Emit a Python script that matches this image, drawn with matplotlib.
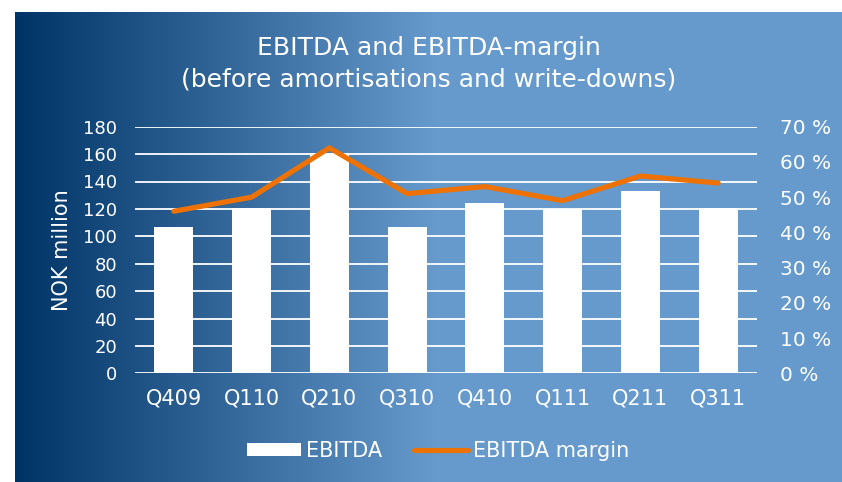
import numpy as np
import matplotlib
matplotlib.use("Agg")
import matplotlib.pyplot as plt
from matplotlib.patches import Patch
from matplotlib.lines import Line2D

categories = ["Q409", "Q110", "Q210", "Q310", "Q410", "Q111", "Q211", "Q311"]
ebitda = [107, 121, 161, 107, 124, 120, 133, 121]
margin = [46, 50, 64, 51, 53, 49, 56, 54]
left_ticks = [0, 20, 40, 60, 80, 100, 120, 140, 160, 180]
right_ticks = [0, 10, 20, 30, 40, 50, 60, 70]

W, H = 842, 482
fig = plt.figure(figsize=(W / 100, H / 100), dpi=100)
fig.patch.set_facecolor("white")

# background gradient panel
bg = fig.add_axes([15 / W, 0, (W - 15) / W, (H - 12) / H], zorder=0)
bg.set_axis_off()
ncol = 827
xs = np.arange(ncol)
t = np.clip(xs / 420.0, 0, 1)
c0 = np.array([0x00, 0x33, 0x66]) / 255
c1 = np.array([0x66, 0x99, 0xCC]) / 255
img = (c0[None, :] * (1 - t[:, None]) + c1[None, :] * t[:, None])[None, :, :]
bg.imshow(img, aspect="auto", extent=[0, 1, 0, 1])
bg.set_xlim(0, 1)
bg.set_ylim(0, 1)

left, right = 135 / W, 757 / W
bottom, top = 1 - 373.3 / H, 1 - 126.7 / H
ax = fig.add_axes([left, bottom, right - left, top - bottom], zorder=1)
ax.patch.set_alpha(0)
x = np.arange(len(categories))
ax.set_xlim(-0.5, len(categories) - 0.5)
ax.set_ylim(0, 180)
ax.set_yticks(left_ticks)
for v in left_ticks:
    ax.axhline(v, color="white", lw=1.3, zorder=1)
ax.bar(x, ebitda, width=0.5, color="white", zorder=2)
ax.set_xticks(x)
ax.set_xticklabels(categories)
for s in ax.spines.values():
    s.set_visible(False)
ax.tick_params(axis="both", length=0, colors="white")
ax.tick_params(axis="y", pad=13, labelsize=13)
ax.tick_params(axis="x", pad=11, labelsize=15)
ax.set_ylabel("NOK million", color="white", fontsize=15, labelpad=8)

ax2 = ax.twinx()
ax2.set_ylim(0, 70)
ax2.set_yticks(right_ticks)
ax2.set_yticklabels([f"{v} %" for v in right_ticks])
for s in ax2.spines.values():
    s.set_visible(False)
ax2.tick_params(axis="y", length=0, colors="white", labelsize=14.5, pad=16.5)
ax2.plot(x, margin, color="#EE7203", lw=3.7, solid_capstyle="round", zorder=3)

cx = 0.5 * (15 + W) / W
fig.text(cx, 1 - 48 / H, "EBITDA and EBITDA-margin", ha="center", va="center",
         color="white", fontsize=18)
fig.text(cx, 1 - 80 / H, "(before amortisations and write-downs)", ha="center",
         va="center", color="white", fontsize=18)

handles = [Patch(facecolor="white", edgecolor="none"),
           Line2D([0], [0], color="#EE7203", lw=3.7, solid_capstyle="round")]
leg = fig.legend(handles, ["EBITDA", "EBITDA margin"], loc="center",
                 bbox_to_anchor=(438 / W, 1 - 451 / H), ncol=2, frameon=False,
                 fontsize=15, handlelength=2.6, handleheight=0.6, columnspacing=1.5,
                 handletextpad=0.25)
for txt in leg.get_texts():
    txt.set_color("white")

fig.savefig("out.png", dpi=100, facecolor="white")
